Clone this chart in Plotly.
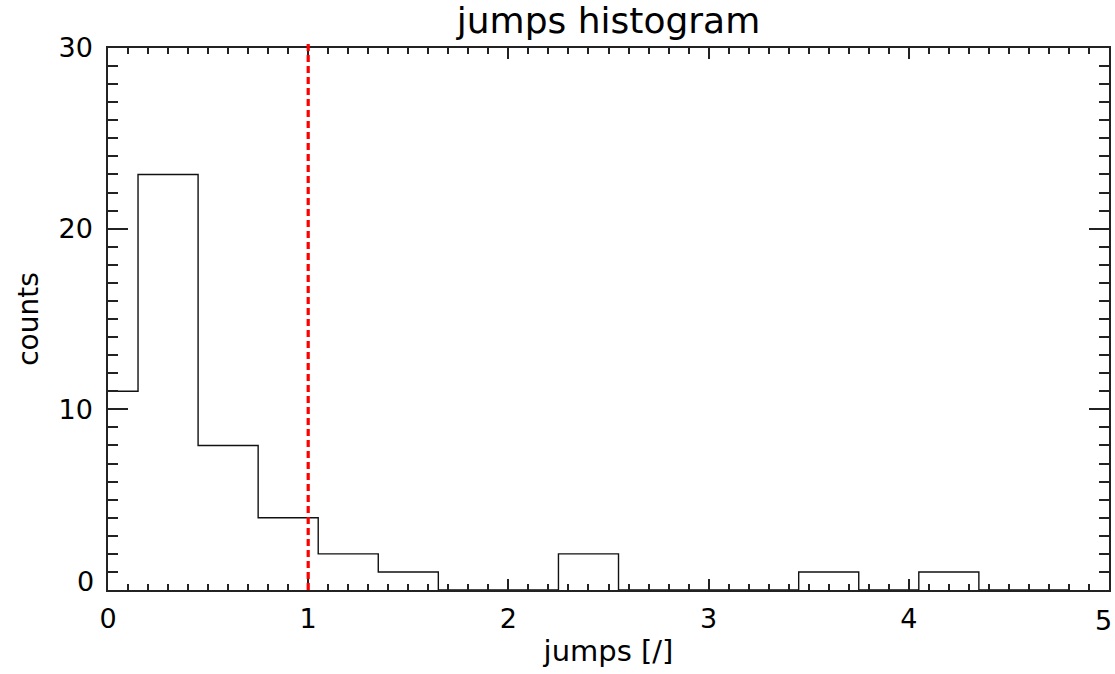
import plotly.graph_objects as go

# Histogram of jump sizes: bin centres (bin width 0.3) and counts per bin
bin_centers = [0.0, 0.3, 0.6, 0.9, 1.2, 1.5, 1.8, 2.1, 2.4, 2.7,
               3.0, 3.3, 3.6, 3.9, 4.2, 4.5, 4.8]
counts = [11, 23, 8, 4, 2, 1, 0, 0, 2, 0, 0, 0, 1, 0, 1, 0, 0]

threshold = 1.0
x_ticks = [0, 1, 2, 3, 4, 5]
y_ticks = [0, 10, 20, 30]

FONT = "DejaVu Sans"
TICK_SIZE = 27

fig = go.Figure()

# Stepped histogram outline
fig.add_trace(go.Scatter(
    x=bin_centers, y=counts, mode="lines",
    line=dict(shape="hvh", color="#111111", width=1.4),
    hoverinfo="x+y", showlegend=False,
))

# Threshold marker
fig.add_shape(
    type="line", xref="x", yref="paper",
    x0=threshold, x1=threshold, y0=0, y1=1.009,
    line=dict(color="#ff0000", width=3.2, dash="7px,4px"),
    layer="above",
)

axis_common = dict(
    showline=True, linecolor="#222222", linewidth=1.5, mirror="ticks",
    ticks="inside", tickcolor="#222222", tickwidth=1.5,
    showgrid=False, zeroline=False, ticklabeloverflow="allow", automargin=False,
    tickfont=dict(family=FONT, size=TICK_SIZE, color="black"),
)

# The last x label and the first y label are placed separately so they stay
# inside the page and clear of the corner.
x_text = [str(v) for v in x_ticks[:-1]] + [""]
y_text = [""] + [str(v) for v in y_ticks[1:]]

fig.update_xaxes(
    range=[0, 5], tickvals=x_ticks, ticktext=x_text, ticklen=11,
    minor=dict(dtick=0.1, ticks="inside", ticklen=6, tickcolor="#222222", tickwidth=1.5, showgrid=False),
    ticklabelstandoff=4,
    title=dict(text="jumps [/]", font=dict(family=FONT, size=29, color="black"), standoff=8),
    **axis_common,
)
fig.update_yaxes(
    range=[0, 30], tickvals=y_ticks, ticktext=y_text, ticklen=20,
    minor=dict(dtick=1, ticks="inside", ticklen=10, tickcolor="#222222", tickwidth=1.5, showgrid=False),
    ticklabelstandoff=8,
    title=dict(text="counts", font=dict(family=FONT, size=28, color="black"), standoff=12),
    **axis_common,
)

tick_font = dict(family=FONT, size=TICK_SIZE, color="black")
fig.add_annotation(text=str(x_ticks[-1]), xref="paper", yref="paper", x=1, y=0,
                   xanchor="right", yanchor="middle", xshift=5, yshift=-30,
                   showarrow=False, font=tick_font)
fig.add_annotation(text=str(y_ticks[0]), xref="paper", yref="paper", x=0, y=0,
                   xanchor="right", yanchor="middle", xshift=-12, yshift=9,
                   showarrow=False, font=tick_font)

fig.update_layout(
    width=1115, height=674,
    margin=dict(l=108, r=6, t=48, b=84, autoexpand=False),
    paper_bgcolor="white", plot_bgcolor="white",
    title=dict(text="jumps histogram", x=0.5, xref="paper", y=1 - 20 / 674, yref="container",
               xanchor="center", yanchor="middle",
               font=dict(family=FONT, size=36, color="black")),
)

fig.write_html("out.html")
